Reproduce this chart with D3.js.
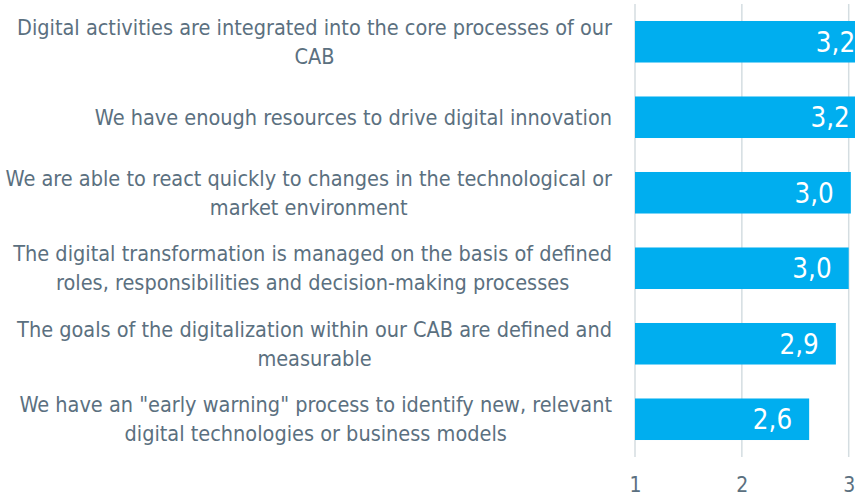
<!DOCTYPE html>
<html>
<head>
<meta charset="utf-8">
<script src="https://cdn.jsdelivr.net/npm/d3@7"></script>
<style>
  html, body { margin: 0; padding: 0; background: #fff; }
  svg { display: block; }
  text { font-family: "Liberation Sans Narrow", "DejaVu Sans Condensed", Roboto, sans-serif; }
</style>
</head>
<body>
<svg id="chart"></svg>
<script>
// data
var categories = [
  "Digital activities are integrated into the core processes of our\nCAB",
  "We have enough resources to drive digital innovation",
  "We are able to react quickly to changes in the technological or\nmarket environment",
  "The digital transformation is managed on the basis of defined\nroles, responsibilities and decision-making processes",
  "The goals of the digitalization within our CAB are defined and\nmeasurable",
  "We have an \"early warning\" process to identify new, relevant\ndigital technologies or business models"
];
var values = [3.22, 3.17, 3.02, 3.00, 2.88, 2.63];
var tickValues = [1, 2, 3];

var width = 855, height = 499;
var labelRight = 612;

var svg = d3.select("#chart")
    .attr("width", width)
    .attr("height", height);

var x = d3.scaleLinear()
    .domain([1, 3])
    .range([635, 848.7]);

var y = d3.scaleBand()
    .domain(d3.range(categories.length))
    .range([4, 457])
    .paddingInner(0.45)
    .paddingOuter(0.225);

// grid lines
svg.append("g")
    .selectAll("line")
    .data(tickValues)
    .enter().append("line")
    .attr("x1", d => x(d))
    .attr("x2", d => x(d))
    .attr("y1", 4)
    .attr("y2", 457)
    .attr("stroke", "#d4dde1")
    .attr("stroke-width", 1.5);

// x axis tick labels
var xAxis = d3.axisBottom(x)
    .tickValues(tickValues)
    .tickSize(0)
    .tickPadding(0)
    .tickFormat(d3.format("d"));

var ax = svg.append("g")
    .attr("transform", "translate(0,477)")
    .call(xAxis);
ax.select(".domain").remove();
ax.selectAll("text")
    .attr("fill", "#5b7080")
    .attr("font-size", 21)
    .style("font-family", "\"Liberation Sans Narrow\", \"DejaVu Sans Condensed\", Roboto, sans-serif");

// bars
svg.append("g")
    .selectAll("rect")
    .data(values)
    .enter().append("rect")
    .attr("x", x(1))
    .attr("y", (d, i) => y(i))
    .attr("width", d => x(d) - x(1))
    .attr("height", y.bandwidth())
    .attr("fill", "#00aeef");

// value labels
var fmt = d3.format(".1f");
svg.append("g")
    .selectAll("text")
    .data(values)
    .enter().append("text")
    .attr("x", d => x(d) - 17)
    .attr("y", (d, i) => y(i) + y.bandwidth() / 2)
    .attr("dy", "0.36em")
    .attr("text-anchor", "end")
    .attr("fill", "#fff")
    .attr("font-size", 27.5)
    .text(d => fmt(d).replace(".", ","));

// category labels, lines centered inside a right-aligned block
var lineH = 29;
var labels = svg.append("g")
    .selectAll("text")
    .data(categories)
    .enter().append("text")
    .attr("fill", "#5b7080")
    .attr("font-size", 21.5)
    .attr("text-anchor", "middle");

labels.each(function(d, i) {
  var t = d3.select(this);
  var lines = d.split("\n");
  var cy = y(i) + y.bandwidth() / 2;
  var spans = lines.map(function(l, j) {
    return t.append("tspan")
      .attr("y", cy + (j - (lines.length - 1) / 2) * lineH)
      .attr("dy", "0.35em")
      .text(l);
  });
  var maxW = d3.max(spans, s => s.node().getComputedTextLength());
  spans.forEach(s => s.attr("x", labelRight - maxW / 2));
});
</script>
</body>
</html>
